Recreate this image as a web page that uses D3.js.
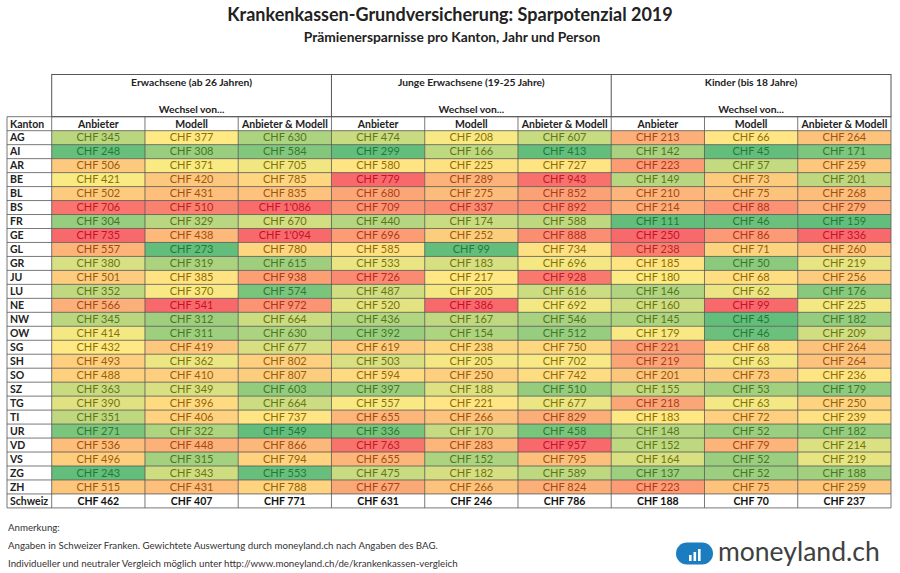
<!DOCTYPE html>
<html><head><meta charset="utf-8">
<script src="https://cdn.jsdelivr.net/npm/d3@7"></script>
<style>body{margin:0;background:#fff}svg{display:block}text{font-family:Lato,"Noto Sans",sans-serif}</style>
</head><body><svg id="c" width="900" height="573"></svg>
<script>
const cantons = ["AG","AI","AR","BE","BL","BS","FR","GE","GL","GR","JU","LU","NE","NW","OW","SG","SH","SO","SZ","TG","TI","UR","VD","VS","ZG","ZH"];
const groups = ["Erwachsene (ab 26 Jahren)","Junge Erwachsene (19-25 Jahre)","Kinder (bis 18 Jahre)"];
const subCols = ["Anbieter","Modell","Anbieter & Modell"];
const erwAnbieter = [345,248,506,421,502,706,304,735,557,380,501,352,566,345,414,432,493,488,363,390,351,271,536,496,243,515];
const erwModell = [377,308,371,420,431,510,329,438,273,319,385,370,541,312,311,419,362,410,349,396,406,322,448,315,343,431];
const erwBeide = [630,584,705,785,835,1086,670,1094,780,615,938,574,972,664,630,677,802,807,603,664,737,549,866,794,553,788];
const jungAnbieter = [474,299,580,779,680,709,440,696,585,533,726,487,520,436,392,619,503,594,397,557,655,336,763,655,475,677];
const jungModell = [208,166,225,289,275,337,174,252,99,183,217,205,386,167,154,238,205,250,188,221,266,170,283,152,182,266];
const jungBeide = [607,413,727,943,852,892,588,888,734,696,928,616,692,546,512,750,702,742,510,677,829,458,957,795,589,824];
const kindAnbieter = [213,142,223,149,210,214,111,250,238,185,180,146,160,145,179,221,219,201,155,218,183,148,152,164,137,223];
const kindModell = [66,45,57,73,75,88,46,86,71,50,68,62,99,45,46,68,63,73,53,63,72,52,79,52,52,75];
const kindBeide = [264,171,259,201,268,279,159,336,260,219,256,176,225,182,209,264,264,236,179,250,239,182,214,219,188,259];
const schweiz = [462,407,771,631,246,786,188,70,237];

const series = [erwAnbieter,erwModell,erwBeide,jungAnbieter,jungModell,jungBeide,kindAnbieter,kindModell,kindBeide];
const colIdx = d3.range(series.length);
const rowsAll = cantons.concat(["Schweiz"]);

const svg = d3.select("#c");
const fmt = v => "CHF " + d3.format(",")(v).replace(/,/g, "'");

const x0 = 7;
const x = d3.scaleBand().domain(colIdx).range([51.7, 891]).padding(0);
const y = d3.scaleBand().domain(rowsAll).range([130.7, 507.9]).padding(0);
const headTop = 116.7;
const lineC = "#555";

// Title
svg.append("text").attr("x", 450).attr("y", 21).attr("text-anchor", "middle")
  .attr("font-size", 18).attr("font-weight", 700).attr("fill", "#222")
  .text("Krankenkassen-Grundversicherung: Sparpotenzial 2019");
svg.append("text").attr("x", 452).attr("y", 42).attr("text-anchor", "middle")
  .attr("font-size", 13.8).attr("font-weight", 700).attr("fill", "#222")
  .text("Prämienersparnisse pro Kanton, Jahr und Person");

// Header group box
const gTop = 74.5;
svg.append("rect").attr("x", x(0)).attr("y", gTop).attr("width", x(8) + x.bandwidth() - x(0))
  .attr("height", headTop - gTop).attr("fill", "none").attr("stroke", lineC).attr("stroke-width", 1);
groups.forEach((g, i) => {
  const gx0 = x(i * 3), gx1 = x(i * 3 + 2) + x.bandwidth();
  if (i > 0) svg.append("line").attr("x1", gx0).attr("x2", gx0).attr("y1", gTop).attr("y2", headTop).attr("stroke", lineC);
  svg.append("text").attr("x", (gx0 + gx1) / 2).attr("y", 86).attr("text-anchor", "middle")
    .attr("font-size", 10.3).attr("font-weight", 700).attr("fill", "#222").text(g);
  svg.append("text").attr("x", (gx0 + gx1) / 2).attr("y", 113).attr("text-anchor", "middle")
    .attr("font-size", 10.3).attr("font-weight", 700).attr("fill", "#222").text("Wechsel von...");
});

// Column header row
svg.append("text").attr("x", x0 + 3).attr("y", headTop + 10.8).attr("font-size", 10.5)
  .attr("font-weight", 700).attr("fill", "#222").text("Kanton");
colIdx.forEach(c => {
  svg.append("text").attr("x", x(c) + x.bandwidth() / 2).attr("y", headTop + 10.8).attr("text-anchor", "middle")
    .attr("font-size", 10.5).attr("font-weight", 700).attr("fill", "#222").text(subCols[c % 3]);
});

// Cells
const scales = series.map(s => {
  const ext = d3.extent(s), med = d3.median(s);
  return {
    fill: d3.scaleLinear().domain([ext[0], med, ext[1]]).range(["#63BE7B", "#FFEB84", "#F8696B"]),
    text: d3.scaleLinear().domain([ext[0], med, ext[1]]).range(["#1f7a3a", "#8c7300", "#c8102e"])
  };
});

colIdx.forEach(c => {
  const s = series[c];
  const g = svg.append("g");
  g.selectAll("rect").data(cantons).enter().append("rect")
    .attr("x", x(c)).attr("y", d => y(d)).attr("width", x.bandwidth()).attr("height", y.bandwidth())
    .attr("fill", (d, i) => scales[c].fill(s[i]));
  g.selectAll("text").data(cantons).enter().append("text")
    .attr("x", x(c) + x.bandwidth() / 2).attr("y", d => y(d) + y.bandwidth() / 2 + 3.8)
    .attr("text-anchor", "middle").attr("font-size", 11)
    .attr("fill", (d, i) => scales[c].text(s[i]))
    .text((d, i) => fmt(s[i]));
  svg.append("text").attr("x", x(c) + x.bandwidth() / 2).attr("y", y("Schweiz") + y.bandwidth() / 2 + 3.8)
    .attr("text-anchor", "middle").attr("font-size", 10.5).attr("font-weight", 700).attr("fill", "#111")
    .text(fmt(schweiz[c]));
});

// Kanton labels
svg.selectAll("text.k").data(rowsAll).enter().append("text").attr("class", "k")
  .attr("x", x0 + 3).attr("y", d => y(d) + y.bandwidth() / 2 + 3.8)
  .attr("font-size", 10.5).attr("font-weight", 700).attr("fill", "#222").text(d => d);

// Grid lines
const gridG = svg.append("g").attr("stroke", lineC).attr("stroke-width", 0.8);
const hLines = [headTop, y(rowsAll[0])].concat(rowsAll.map(r => y(r) + y.bandwidth()));
hLines.forEach(v => gridG.append("line").attr("x1", x0).attr("x2", 891).attr("y1", v).attr("y2", v));
const vLines = [x0].concat(colIdx.map(c => x(c)), [891]);
vLines.forEach(v => gridG.append("line").attr("x1", v).attr("x2", v).attr("y1", headTop).attr("y2", y("Schweiz") + y.bandwidth()));

// Footer
const foot = ["Anmerkung:",
  "Angaben in Schweizer Franken. Gewichtete Auswertung durch moneyland.ch nach Angaben des BAG.",
  "Individueller und neutraler Vergleich möglich unter http://www.moneyland.ch/de/krankenkassen-vergleich"];
foot.forEach((t, i) => svg.append("text").attr("x", 8).attr("y", 531 + i * 18).attr("font-size", 9.7)
  .attr("fill", "#333").text(t));

// Logo
const lg = svg.append("g");
lg.append("rect").attr("x", 676).attr("y", 542.5).attr("width", 37).attr("height", 22).attr("rx", 11).attr("fill", "#1b7cc0");
[[689, 555, 6], [693.5, 552, 9], [698, 549, 12]].forEach(b =>
  lg.append("rect").attr("x", b[0]).attr("y", b[1]).attr("width", 2.6).attr("height", b[2]).attr("fill", "#fff"));
lg.append("text").attr("x", 718).attr("y", 561).attr("font-size", 26.5).attr("font-family", "'Open Sans',sans-serif")
  .attr("fill", "#404040").text("moneyland.ch");
</script></body></html>
